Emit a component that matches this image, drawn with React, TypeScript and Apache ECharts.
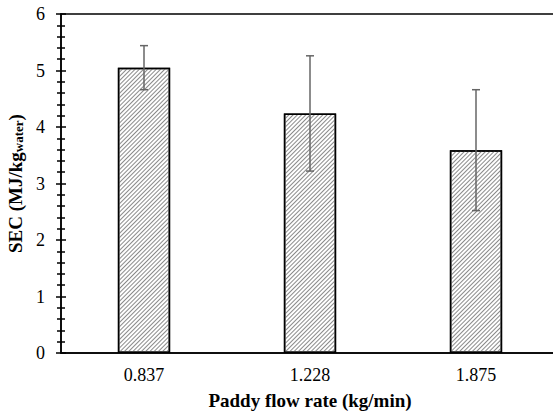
import React, { useEffect, useRef } from "react";
import * as echarts from "echarts";

const categories = ["0.837", "1.228", "1.875"];
const secValues = [5.05, 4.24, 3.59];
const secErrors = [0.39, 1.02, 1.07];
const yTicks = { min: 0, max: 6, interval: 1 };

const FONT = "'Liberation Serif', 'Times New Roman', serif";

export default function App() {
  const ref = useRef<HTMLDivElement>(null);
  useEffect(() => {
    if (!ref.current) return;
    const chart = echarts.init(ref.current, null, { renderer: "svg" });
    const yBase = {
      type: "value" as const,
      min: yTicks.min,
      max: yTicks.max,
      interval: yTicks.interval,
      splitLine: { show: false },
      minorSplitLine: { show: false },
    };
    chart.setOption({
      animation: false,
      backgroundColor: "#ffffff",
      aria: { enabled: false, decal: { show: true } },
      grid: {
        left: 61,
        top: 14,
        bottom: 63,
        right: -6,
        outerBoundsMode: "none",
        containLabel: false,
        show: true,
        borderColor: "#000",
        borderWidth: 1.5,
        backgroundColor: "transparent",
      },
      xAxis: {
        type: "category",
        data: categories,
        axisLine: { show: true, lineStyle: { color: "#000", width: 1.5 } },
        axisTick: { show: false },
        axisLabel: { fontFamily: FONT, fontSize: 18, color: "#000", margin: 13 },
        name: "Paddy flow rate (kg/min)",
        nameLocation: "middle",
        nameGap: 38,
        nameTextStyle: { fontFamily: FONT, fontSize: 19, fontWeight: "bold", color: "#000" },
      },
      yAxis: [
        {
          ...yBase,
          axisLine: { show: true, lineStyle: { color: "#000", width: 1.5 } },
          axisTick: { show: true, length: 5, lineStyle: { color: "#000", width: 1.5 } },
          minorTick: { show: true, splitNumber: 5, length: 4, lineStyle: { color: "#000", width: 1.5 } },
          axisLabel: { fontFamily: FONT, fontSize: 18, color: "#000", margin: 16 },
          name: "{b|SEC (MJ/kg}{s|water}{b|)}",
          nameLocation: "middle",
          nameGap: 32,
          nameTextStyle: {
            rich: {
              b: { fontFamily: FONT, fontSize: 19, fontWeight: "bold", color: "#000" },
              s: { fontFamily: FONT, fontSize: 13, fontWeight: "bold", color: "#000", verticalAlign: "bottom", padding: [7, 0, 0, 0] },
            },
          },
        },
        {
          ...yBase,
          position: "left",
          axisLine: { show: false },
          axisTick: { show: true, inside: true, length: 5, lineStyle: { color: "#000", width: 1.5 } },
          minorTick: { show: true, splitNumber: 5, length: 4, lineStyle: { color: "#000", width: 1.5 } },
          axisLabel: { show: false },
        },
      ],
      series: [
        {
          type: "bar",
          data: secValues,
          barWidth: "31.5%",
          itemStyle: {
            color: "#ffffff",
            borderColor: "#000",
            borderWidth: 1.5,
            decal: {
              symbol: "rect",
              symbolSize: 1,
              color: "#8a8a8a",
              backgroundColor: "#fff",
              dashArrayX: [1, 0],
              dashArrayY: [1, 1.6],
              rotation: -Math.PI / 4,
            },
          },
        },
        {
          type: "custom",
          data: categories.map((_, i) => [i, secValues[i], secErrors[i]]),
          z: 10,
          renderItem: (params: any, api: any) => {
            const x = api.value(0);
            const y = api.value(1);
            const e = api.value(2);
            const top = api.coord([x, y + e]);
            const bot = api.coord([x, y - e]);
            const cap = 4;
            const style = { stroke: "#666", lineWidth: 1.5 };
            return {
              type: "group",
              children: [
                { type: "line", shape: { x1: top[0], y1: top[1], x2: bot[0], y2: bot[1] }, style },
                { type: "line", shape: { x1: top[0] - cap, y1: top[1], x2: top[0] + cap, y2: top[1] }, style },
                { type: "line", shape: { x1: bot[0] - cap, y1: bot[1], x2: bot[0] + cap, y2: bot[1] }, style },
              ],
            };
          },
        },
      ],
    });
    return () => chart.dispose();
  }, []);
  return <div ref={ref} style={{ width: 553, height: 416, position: "absolute", left: 0, top: 0 }} />;
}
